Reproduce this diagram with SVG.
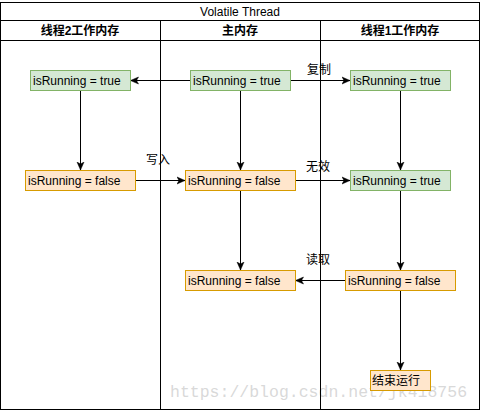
<svg xmlns="http://www.w3.org/2000/svg" width="481" height="411" viewBox="0 0 481 411">
<style>
.lane{fill:none;stroke:#000;stroke-width:1}
.title{font-family:"Liberation Sans",Arial,sans-serif;font-size:12px;fill:#000;text-anchor:middle}
.hdr{font-family:"Liberation Sans","Noto Sans CJK SC",sans-serif;font-size:12px;font-weight:bold;fill:#000;text-anchor:middle}
.g{fill:#d5e8d4;stroke:#82b366;stroke-width:1}
.o{fill:#ffe6cc;stroke:#d79b00;stroke-width:1}
.t{font-family:"Liberation Sans",Arial,sans-serif;font-size:12px;fill:#000}
.zh{font-family:"Liberation Sans","Noto Sans CJK SC",sans-serif;font-size:12px;fill:#000}
.c{fill:none;stroke:#000;stroke-width:1;marker-end:url(#arr)}
.wm{font-family:"Liberation Mono",monospace;font-size:16.5px;fill:#c8c8c8;fill-opacity:0.7}
</style>
<defs>
<marker id="arr" markerUnits="userSpaceOnUse" markerWidth="9" markerHeight="9" refX="8" refY="4.5" orient="auto">
<path d="M0,1 L8,4.5 L0,8 L2,4.5 Z" fill="#000" stroke="#000" stroke-width="0.5"/>
</marker>
</defs>
<rect x="0" y="0" width="481" height="411" fill="#fff"/>
<text class="wm" x="170" y="397">https://blog.csdn.net/jk418756</text>
<g id="pool">
<rect class="lane" x="0.5" y="2.5" width="479" height="407"/>
<line class="lane" x1="0.5" y1="20.5" x2="479.5" y2="20.5"/>
<line class="lane" x1="0.5" y1="40.5" x2="479.5" y2="40.5"/>
<line class="lane" x1="160.5" y1="20.5" x2="160.5" y2="409.5"/>
<line class="lane" x1="320.5" y1="20.5" x2="320.5" y2="409.5"/>
<text class="title" x="240" y="16">Volatile Thread</text>
<text class="hdr" x="80" y="35">线程2工作内存</text>
<text class="hdr" x="240" y="35">主内存</text>
<text class="hdr" x="400" y="35">线程1工作内存</text>
</g>
<g id="connectors">
<line class="c" x1="190" y1="80.5" x2="130.5" y2="80.5"/>
<line class="c" x1="290" y1="80.5" x2="350" y2="80.5"/>
<line class="c" x1="80.5" y1="90" x2="80.5" y2="170"/>
<line class="c" x1="240.5" y1="90" x2="240.5" y2="170"/>
<line class="c" x1="400.5" y1="90" x2="400.5" y2="170"/>
<line class="c" x1="135" y1="180.5" x2="185" y2="180.5"/>
<line class="c" x1="295" y1="180.5" x2="350" y2="180.5"/>
<line class="c" x1="240.5" y1="190" x2="240.5" y2="270"/>
<line class="c" x1="400.5" y1="190" x2="400.5" y2="270"/>
<line class="c" x1="345" y1="280.5" x2="295.5" y2="280.5"/>
<line class="c" x1="400.5" y1="290" x2="400.5" y2="370"/>
<text class="zh" x="319" y="74" text-anchor="middle">复制</text>
<text class="zh" x="158" y="164" text-anchor="middle">写入</text>
<text class="zh" x="318" y="171" text-anchor="middle">无效</text>
<text class="zh" x="318" y="264" text-anchor="middle">读取</text>
</g>
<g id="t2-true">
<rect class="g" x="30.5" y="70.5" width="100" height="20"/>
<text class="t" x="33" y="85">isRunning = true</text>
</g>
<g id="main-true">
<rect class="g" x="190.5" y="70.5" width="100" height="20"/>
<text class="t" x="193" y="85">isRunning = true</text>
</g>
<g id="t1-true">
<rect class="g" x="350.5" y="70.5" width="100" height="20"/>
<text class="t" x="353" y="85">isRunning = true</text>
</g>
<g id="t2-false">
<rect class="o" x="25.5" y="170.5" width="110" height="20"/>
<text class="t" x="28" y="185">isRunning = false</text>
</g>
<g id="main-false">
<rect class="o" x="185.5" y="170.5" width="110" height="20"/>
<text class="t" x="188" y="185">isRunning = false</text>
</g>
<g id="t1-true2">
<rect class="g" x="350.5" y="170.5" width="100" height="20"/>
<text class="t" x="353" y="185">isRunning = true</text>
</g>
<g id="main-false2">
<rect class="o" x="185.5" y="270.5" width="110" height="20"/>
<text class="t" x="188" y="285">isRunning = false</text>
</g>
<g id="t1-false">
<rect class="o" x="345.5" y="270.5" width="110" height="20"/>
<text class="t" x="348" y="285">isRunning = false</text>
</g>
<g id="t1-stop">
<rect class="o" x="370.5" y="370.5" width="60" height="20"/>
<text class="zh" x="372" y="385" font-size="12.5">结束运行</text>
</g>
</svg>
